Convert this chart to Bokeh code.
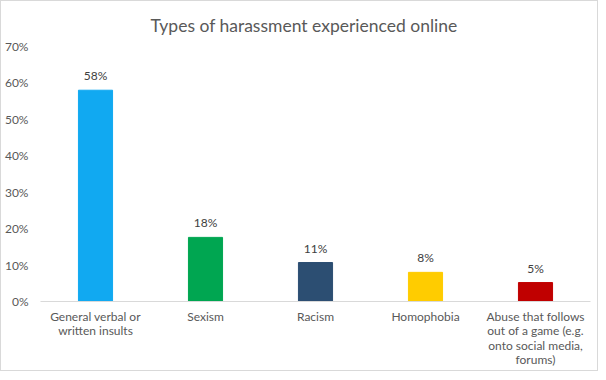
from bokeh.plotting import figure
from bokeh.models import ColumnDataSource, NumeralTickFormatter, FixedTicker
from bokeh.core.properties import value
from bokeh.embed import file_html
from bokeh.resources import INLINE

categories = ["General verbal or\nwritten insults", "Sexism", "Racism", "Homophobia",
              "Abuse that follows\nout of a game (e.g.\nonto social media,\nforums)"]
shares = [0.58, 0.176, 0.107, 0.08, 0.052]
colors = ["#11A9F1", "#00A651", "#2C4E72", "#FFCC00", "#C00000"]
y_ticks = [0.0, 0.1, 0.2, 0.3, 0.4, 0.5, 0.6, 0.7]

labels = [f"{round(v * 100):d}%" for v in shares]
src = ColumnDataSource(dict(cat=categories, val=shares, color=colors, label=labels))

FONT = "Lato"

p = figure(x_range=categories, y_range=(0, 0.7), frame_width=550, frame_height=255,
           output_backend="svg", toolbar_location=None,
           min_border_left=33, min_border_right=7, min_border_top=8, min_border_bottom=0)
p.styles = {"border": "1px solid #D9D9D9", "box-sizing": "border-box"}

p.title.text = "Types of harassment experienced online"
p.title.align = "left"
p.title.offset = 110
p.title.text_font = FONT
p.title.text_font_size = "17.5px"
p.title.text_font_style = "normal"
p.title.text_color = "#595959"
p.title.standoff = 22

p.vbar(x="cat", top="val", width=0.31, color="color", source=src)
p.text(x="cat", y="val", text="label", source=src, text_align="center",
       text_baseline="bottom", y_offset=-7, text_font=value(FONT),
       text_font_size="12px", text_color="#404040")

p.outline_line_color = None
p.xgrid.grid_line_color = None
p.ygrid.grid_line_color = None

p.yaxis.ticker = FixedTicker(ticks=y_ticks)
p.yaxis.formatter = NumeralTickFormatter(format="0%")
p.yaxis.axis_line_color = None
p.yaxis.major_tick_line_color = None
p.yaxis.minor_tick_line_color = None
p.yaxis.major_label_text_font = FONT
p.yaxis.major_label_text_font_size = "12px"
p.yaxis.major_label_text_color = "#595959"
p.yaxis.major_label_standoff = 6

p.xaxis.axis_line_color = "#D9D9D9"
p.xaxis.major_tick_line_color = None
p.xaxis.minor_tick_line_color = None
p.xaxis.major_tick_out = 0
p.xaxis.major_tick_in = 0
p.xaxis.minor_tick_out = 0
p.xaxis.axis_label_standoff = 0
p.xaxis.major_label_text_font = FONT
p.xaxis.major_label_text_font_size = "12px"
p.xaxis.major_label_text_color = "#595959"
p.xaxis.major_label_text_align = "center"
p.xaxis.major_label_standoff = 7
p.xaxis.major_label_text_line_height = 0.97

p.x_range.range_padding = 0

open("out.html", "w").write(file_html(p, INLINE))
